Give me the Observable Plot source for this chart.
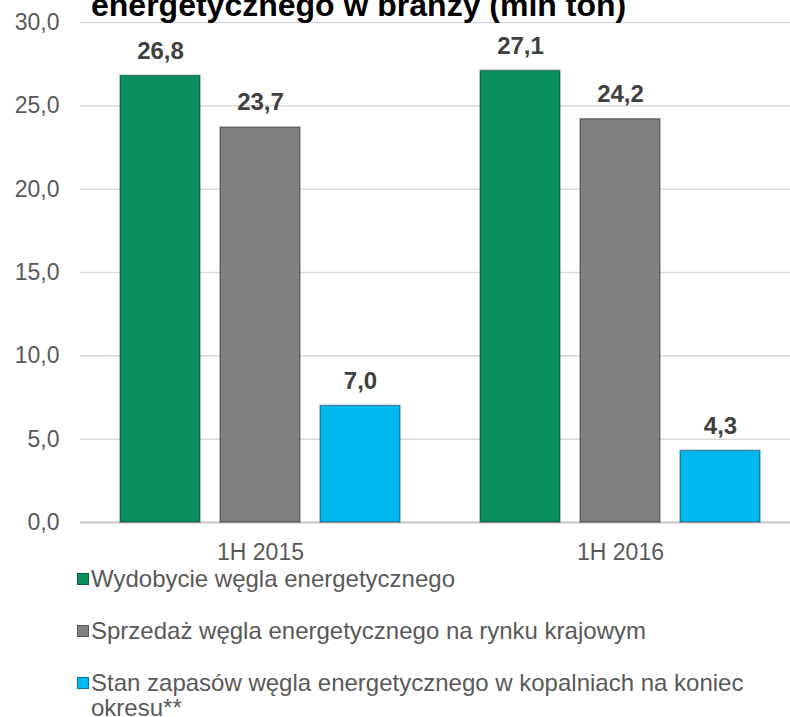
<!DOCTYPE html>
<html><head><meta charset="utf-8">
<script src="https://cdn.jsdelivr.net/npm/d3@7"></script>
<script src="https://cdn.jsdelivr.net/npm/@observablehq/plot@0.6"></script>
<style>
body{margin:0;background:#fff;font-family:"Liberation Sans",Arial,sans-serif;overflow:hidden}
#wrap{position:relative;width:790px;height:717px;overflow:hidden}
#chart{position:absolute;left:0;top:0}
#title{position:absolute;left:91px;top:-13px;font-weight:bold;font-size:32px;color:#000;white-space:nowrap;line-height:36px;z-index:2}
#legend{position:absolute;left:77px;top:566px;font-size:24px;color:#595959;line-height:25px;width:700px}
.item{display:flex;align-items:flex-start;margin-bottom:27px}
.sw{width:12px;height:12px;margin-top:7px;margin-right:2px;flex:none;box-sizing:border-box;border:1px solid rgba(0,0,0,0.3)}
</style>
</head><body>
<div id="wrap">
<div id="chart"></div>
<div id="title">energetycznego w branży (mln ton)</div>
<div id="legend"></div>
</div>
<script>
const categories = ["1H 2015", "1H 2016"];
const series = [
  "Wydobycie węgla energetycznego",
  "Sprzedaż węgla energetycznego na rynku krajowym",
  "Stan zapasów węgla energetycznego w kopalniach na koniec okresu**"
];
const wydobycie = [26.8, 27.1];
const sprzedaz = [23.7, 24.2];
const zapasy = [7.0, 4.3];
const yTicks = [0, 5, 10, 15, 20, 25, 30];
const colors = ["#0a8f5e", "#808080", "#00b8f0"];

const values = [wydobycie, sprzedaz, zapasy];
const rows = [];
categories.forEach((c, i) => series.forEach((s, j) => rows.push({cat: c, series: s, value: values[j][i]})));
const fmt = d => d.toFixed(1).replace(".", ",");

const chart = Plot.plot({
  width: 790, height: 566,
  marginLeft: 80, marginRight: -10, marginTop: 22, marginBottom: 44,
  style: {fontFamily: "Liberation Sans, Arial, sans-serif", fontSize: "23px", color: "#595959", background: "transparent", overflow: "visible"},
  fx: {domain: categories, padding: 0, label: null, tickSize: 0, tickPadding: 21, axis: "bottom"},
  x: {domain: series, paddingInner: 0.2, paddingOuter: 0.4, axis: null},
  y: {domain: [0, 30], ticks: yTicks.length - 1, tickFormat: fmt, tickSize: 0, tickPadding: 21, label: null},
  color: {domain: series, range: colors},
  marks: [
    Plot.ruleY(yTicks, {stroke: d => d === 0 ? "#c8c8c8" : "#d9d9d9", strokeWidth: d => d === 0 ? 2 : 1.5}),
    Plot.barY(rows, {fx: "cat", x: "series", y: "value", fill: "series", stroke: "rgba(0,0,0,0.35)", strokeWidth: 1.5}),
    Plot.text(rows, {fx: "cat", x: "series", y: "value", text: d => fmt(d.value), dy: -25, fontWeight: "bold", fontSize: 24, fill: "#404040"})
  ]
});
document.getElementById("chart").appendChild(chart);

const legend = document.getElementById("legend");
series.forEach((s, j) => {
  const it = document.createElement("div");
  it.className = "item";
  const sw = document.createElement("span");
  sw.className = "sw";
  sw.style.background = colors[j];
  const t = document.createElement("span");
  t.textContent = s;
  t.style.maxWidth = "680px";
  it.appendChild(sw); it.appendChild(t);
  legend.appendChild(it);
});
</script>
</body></html>
